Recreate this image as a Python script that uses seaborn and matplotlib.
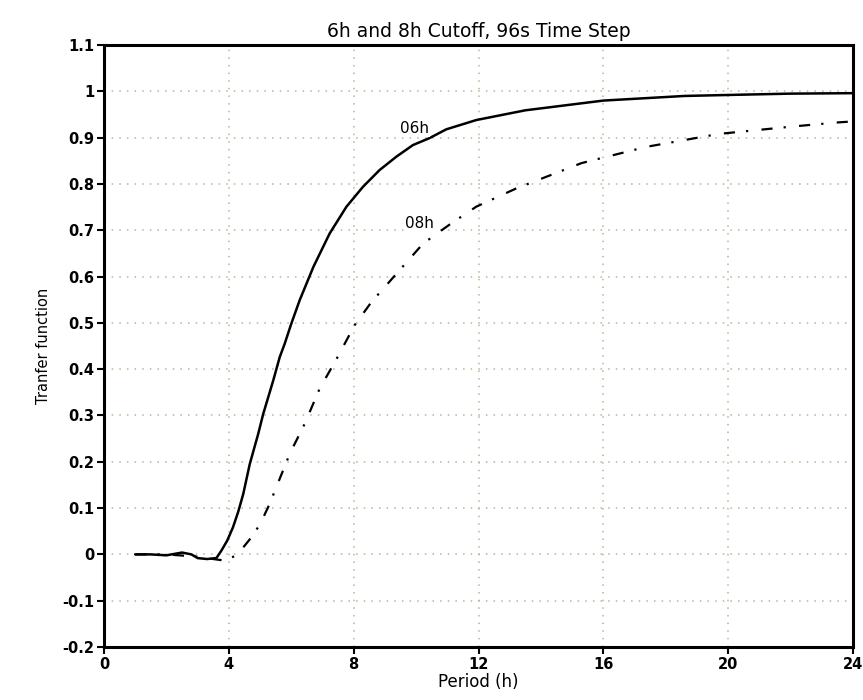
import numpy as np
import pandas as pd
import matplotlib
matplotlib.use("Agg")
import matplotlib.pyplot as plt
import seaborn as sns

# ---- data ----
x06 = [1.0, 1.5, 2.0, 2.5, 2.8, 3.0, 3.3, 3.6, 3.76, 3.95, 4.13, 4.3, 4.46, 4.67,
       4.94, 5.1, 5.42, 5.63, 5.79, 6.0, 6.27, 6.71, 7.23, 7.77, 8.30, 8.83,
       9.37, 9.9, 10.43, 10.97, 11.93, 13.5, 16.0, 18.6, 20.6, 22.0, 24.0]
y06 = [0.0, 0.0, -0.002, 0.004, 0.0, -0.008, -0.01, -0.008, 0.008, 0.03, 0.058,
       0.092, 0.130, 0.195, 0.26, 0.303, 0.375, 0.426, 0.455, 0.498, 0.549,
       0.621, 0.693, 0.751, 0.794, 0.830, 0.859, 0.884, 0.899, 0.918, 0.938,
       0.959, 0.98, 0.99, 0.993, 0.995, 0.996]

x08 = [1.0, 2.0, 3.0, 3.5, 3.82, 4.08, 4.3, 4.46, 4.7, 5.0, 5.3, 5.58, 5.95,
       6.43, 6.91, 7.45, 8.03, 8.57, 9.37, 10.22, 11.13, 11.93, 13.2, 15.3,
       17.37, 19.7, 22.06, 23.55, 24.0]
y08 = [0.0, 0.0, -0.005, -0.01, -0.013, -0.007, 0.0, 0.015, 0.035, 0.065,
       0.108, 0.155, 0.217, 0.282, 0.358, 0.422, 0.495, 0.545, 0.606, 0.671,
       0.715, 0.751, 0.79, 0.845, 0.88, 0.908, 0.924, 0.933, 0.935]

xticks = [0, 4, 8, 12, 16, 20, 24]
yticks = [-0.2, -0.1, 0, 0.1, 0.2, 0.3, 0.4, 0.5, 0.6, 0.7, 0.8, 0.9, 1.0, 1.1]
ytick_labels = ["-0.2", "-0.1", "0", "0.1", "0.2", "0.3", "0.4", "0.5", "0.6",
                "0.7", "0.8", "0.9", "1", "1.1"]

title = "6h and 8h Cutoff, 96s Time Step"
xlabel = "Period (h)"
ylabel = "Tranfer function"

df06 = pd.DataFrame({"x": x06, "y": y06})
df08 = pd.DataFrame({"x": x08, "y": y08})

sns.set_style("white")
plt.rcParams["font.family"] = ["DejaVu Sans"]
plt.rcParams["text.color"] = "black"
plt.rcParams["axes.labelcolor"] = "black"
plt.rcParams["xtick.color"] = "black"
plt.rcParams["ytick.color"] = "black"

fig = plt.figure(figsize=(8.63, 7.0), dpi=100)
ax = fig.add_axes([0.1205, 0.0757, 0.868, 0.86])

sns.lineplot(data=df06, x="x", y="y", ax=ax, color="black", lw=1.8,
             estimator=None, sort=False)
sns.lineplot(data=df08, x="x", y="y", ax=ax, color="black", lw=1.6,
             estimator=None, sort=False, linestyle=(0, (5, 5, 1, 6)))

ax.set_xlim(0, 24)
ax.set_ylim(-0.2, 1.1)
ax.set_xticks(xticks)
ax.set_xticklabels([str(t) for t in xticks], fontsize=10.5, fontweight="bold")
ax.set_yticks(yticks)
ax.set_yticklabels(ytick_labels, fontsize=10.5, fontweight="bold")

ax.grid(True, color="#b4b894", linestyle=(0, (1, 4)), linewidth=1.1)
ax.set_axisbelow(True)
for s in ax.spines.values():
    s.set_visible(True)
    s.set_color("black")
    s.set_linewidth(2.2)
ax.tick_params(axis="both", direction="out", length=5, width=1.5,
               color="black", pad=2, bottom=True, left=True)

ax.text(9.95, 0.92, "06h", ha="center", va="center", fontsize=11,
        color="black",
        bbox=dict(facecolor="white", edgecolor="none", pad=0.5), zorder=5)
ax.text(10.1, 0.715, "08h", ha="center", va="center", fontsize=11,
        color="black",
        bbox=dict(facecolor="white", edgecolor="none", pad=0.5), zorder=5)

ax.set_title(title, fontsize=13.5, pad=6, color="black")
ax.set_xlabel(xlabel, fontsize=12, labelpad=1)
ax.set_ylabel(ylabel, fontsize=10.5, labelpad=8)

fig.savefig("out.png", dpi=100)
